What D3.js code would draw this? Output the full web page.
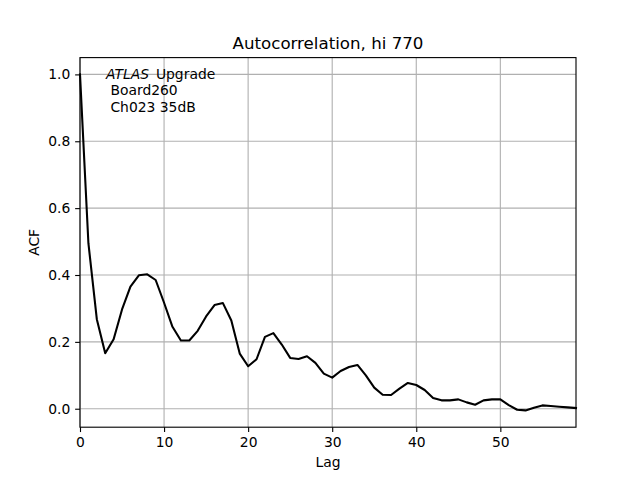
<!DOCTYPE html>
<html>
<head>
<meta charset="utf-8">
<script src="https://cdn.jsdelivr.net/npm/d3@7"></script>
<style>
  html, body { margin: 0; padding: 0; background: #fff; }
  svg { display: block; font-family: "DejaVu Sans", sans-serif; }
</style>
</head>
<body>
<svg id="chart" width="640" height="480"></svg>
<script>
const lags = d3.range(0, 60);
const acf = [
  1.000, 0.495, 0.268, 0.166, 0.208, 0.297, 0.365, 0.399, 0.402, 0.385,
  0.317, 0.245, 0.204, 0.204, 0.233, 0.276, 0.310, 0.316, 0.264, 0.165,
  0.127, 0.148, 0.215, 0.226, 0.192, 0.152, 0.149, 0.157, 0.137, 0.105,
  0.093, 0.113, 0.125, 0.131, 0.100, 0.063, 0.042, 0.041, 0.060, 0.077,
  0.071, 0.056, 0.032, 0.025, 0.025, 0.028, 0.019, 0.012, 0.025, 0.028,
  0.028, 0.011, -0.003, -0.005, 0.003, 0.010, 0.008, 0.006, 0.004, 0.002
];
const xTicks = [0, 10, 20, 30, 40, 50];
const yTicks = [0.0, 0.2, 0.4, 0.6, 0.8, 1.0];
const titleText = "Autocorrelation, hi 770";
const xLabel = "Lag";
const yLabel = "ACF";
const annotLines = ["Upgrade", " Board260", " Ch023 35dB"];

(function () {
const mL = 80, mR = 576, mT = 57.6, mB = 427.2;
const PT = 100 / 72;
const svg = d3.select("#chart");

const yMin = d3.min(acf), yMax = d3.max(acf);
const pad = (yMax - yMin) * 0.05;
const x = d3.scaleLinear().domain([0, 59]).range([mL, mR]);
const y = d3.scaleLinear().domain([yMin - pad, yMax + pad]).range([mB, mT]);

// grid
const g = svg.append("g");
g.selectAll("line.vg").data(xTicks).enter().append("line")
  .attr("x1", d => x(d)).attr("x2", d => x(d))
  .attr("y1", mT).attr("y2", mB)
  .attr("stroke", "#b0b0b0").attr("stroke-width", 0.8 * PT);
g.selectAll("line.hg").data(yTicks).enter().append("line")
  .attr("x1", mL).attr("x2", mR)
  .attr("y1", d => y(d)).attr("y2", d => y(d))
  .attr("stroke", "#b0b0b0").attr("stroke-width", 0.8 * PT);

// line
const line = d3.line().x((d, i) => x(lags[i])).y(d => y(d));
svg.append("path").datum(acf)
  .attr("d", line)
  .attr("fill", "none").attr("stroke", "#000").attr("stroke-width", 1.5 * PT)
  .attr("stroke-linejoin", "round").attr("stroke-linecap", "square");

// axes
const xAxis = d3.axisBottom(x).tickValues(xTicks).tickFormat(d3.format("d"))
  .tickSize(3.5 * PT).tickPadding(3.5 * PT);
const yAxis = d3.axisLeft(y).tickValues(yTicks).tickFormat(d3.format(".1f"))
  .tickSize(3.5 * PT).tickPadding(3.5 * PT);

const gx = svg.append("g").attr("transform", `translate(0,${mB})`).call(xAxis);
const gy = svg.append("g").attr("transform", `translate(${mL},0)`).call(yAxis);
[gx, gy].forEach(a => {
  a.select(".domain").remove();
  a.selectAll(".tick line").attr("stroke", "#000").attr("stroke-width", 0.8 * PT);
  a.selectAll(".tick text").attr("fill", "#000")
    .style("font-family", "DejaVu Sans").style("font-size", (10 * PT) + "px");
});

// spines
svg.append("rect").attr("x", mL).attr("y", mT)
  .attr("width", mR - mL).attr("height", mB - mT)
  .attr("fill", "none").attr("stroke", "#000").attr("stroke-width", 0.8 * PT);

// title & labels
svg.append("text").attr("x", (mL + mR) / 2).attr("y", mT - 6 * PT)
  .attr("text-anchor", "middle").style("font-size", (12 * PT) + "px").attr("fill", "#000")
  .text(titleText);
svg.append("text").attr("x", (mL + mR) / 2).attr("y", 467)
  .attr("text-anchor", "middle").style("font-size", (10 * PT) + "px").attr("fill", "#000")
  .text(xLabel);
svg.append("text").attr("transform", `translate(39,${(mT + mB) / 2}) rotate(-90)`)
  .attr("text-anchor", "middle").style("font-size", (10 * PT) + "px").attr("fill", "#000")
  .text(yLabel);

// annotation
const ann = svg.append("text").style("font-size", (10 * PT) + "px").attr("fill", "#000")
  .attr("xml:space", "preserve").style("white-space", "pre");
const t1 = ann.append("tspan").attr("x", 106).attr("y", 78.7);
t1.append("tspan").style("font-style", "italic").text("ATLAS");
t1.append("tspan").attr("dx", 2.5).text(" " + annotLines[0]);
ann.append("tspan").attr("x", 106).attr("y", 95.2).text(annotLines[1]);
ann.append("tspan").attr("x", 106).attr("y", 111.7).text(annotLines[2]);
})();
</script>
</body>
</html>
